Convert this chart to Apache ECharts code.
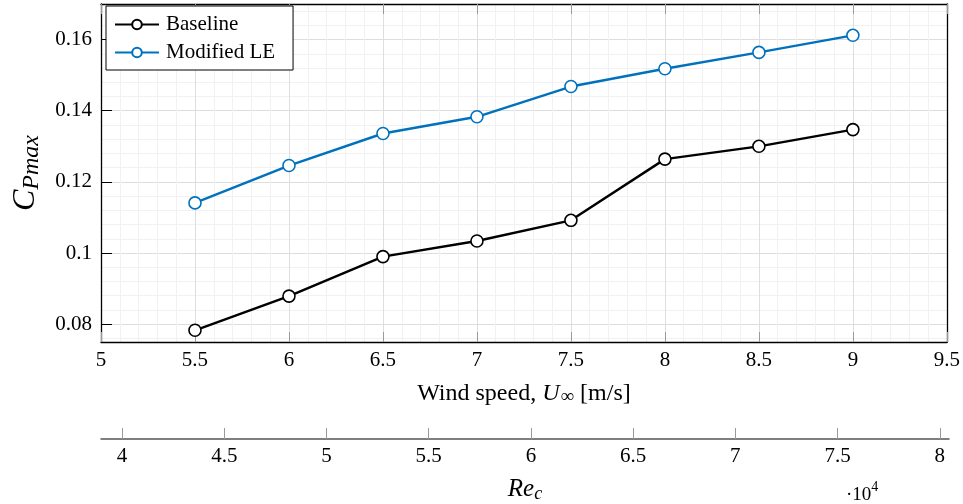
<!DOCTYPE html>
<html>
<head>
<meta charset="utf-8">
<script src="https://cdn.jsdelivr.net/npm/echarts@6/dist/echarts.min.js"></script>
<style>
  html, body { margin: 0; padding: 0; background: #fff; }
  #chart { width: 963px; height: 504px; }
</style>
</head>
<body>
<div id="chart"></div>
<script>
// Wind speed [m/s]
const windSpeed = [5.5, 6, 6.5, 7, 7.5, 8, 8.5, 9];
// Maximum power coefficient per configuration
const baseline = [0.0783, 0.0879, 0.0990, 0.1034, 0.1092, 0.1264, 0.1300, 0.1347];
const modifiedLE = [0.1141, 0.1246, 0.1336, 0.1383, 0.1468, 0.1518, 0.1564, 0.1612];
// Chord Reynolds number ticks (x 10^4)
const reTicks = [4, 4.5, 5, 5.5, 6, 6.5, 7, 7.5, 8];

const FONT = '"Liberation Serif", "DejaVu Serif", serif';
const BLUE = '#0072BD';

const pairs = arr => windSpeed.map((u, i) => [u, arr[i]]);

const chart = echarts.init(document.getElementById('chart'), null, { renderer: 'canvas' });

const tickText = { fontFamily: FONT, fontSize: 21, color: '#000' };

chart.setOption({
  animation: false,
  backgroundColor: '#fff',
  grid: [
    { left: 101, right: 14, top: 4, bottom: 162 },
    { left: 101, right: 14, top: 430, height: 10 }
  ],
  legend: {
    data: ['Baseline', 'Modified LE'],
    orient: 'vertical',
    left: 106,
    top: 6,
    backgroundColor: '#fff',
    borderColor: '#000',
    borderWidth: 1,
    borderRadius: 0,
    padding: [8, 18, 7, 8],
    itemWidth: 44,
    itemHeight: 12,
    itemGap: 7,
    textStyle: { fontFamily: FONT, fontSize: 21, color: '#000', padding: [0, 0, 0, 2] }
  },
  xAxis: [
    {
      type: 'value', gridIndex: 0, position: 'bottom',
      min: 5, max: 9.5, interval: 0.5,
      axisLine: { show: true, onZero: false, lineStyle: { color: '#000', width: 1.3 } },
      axisTick: { show: true, inside: true, length: 10, lineStyle: { color: '#999', width: 1 } },
      axisLabel: Object.assign({ margin: 8 }, tickText),
      splitLine: { show: true, lineStyle: { color: '#dedede', width: 1 } },
      minorSplitLine: { show: true, lineStyle: { color: '#f1f1f1', width: 1 } },
      minorTick: { show: false, splitNumber: 5 },
      name: '{n|Wind speed, }{i|U}{s|∞}{n| [m/s]}',
      nameLocation: 'middle',
      nameGap: 38,
      nameTextStyle: {
        rich: {
          n: { fontFamily: FONT, fontSize: 24, color: '#000' },
          i: { fontFamily: FONT, fontSize: 24, fontStyle: 'italic', color: '#000' },
          s: { fontFamily: FONT, fontSize: 19, color: '#000', padding: [8, 0, 0, 1] }
        }
      }
    },
    {
      type: 'value', gridIndex: 0, position: 'top',
      min: 5, max: 9.5, interval: 0.5,
      axisLine: { show: true, onZero: false, lineStyle: { color: '#000', width: 1.3 } },
      axisTick: { show: true, inside: true, length: 10, lineStyle: { color: '#999', width: 1 } },
      axisLabel: { show: false },
      splitLine: { show: false }
    },
    {
      type: 'value', gridIndex: 1, position: 'bottom',
      min: 3.897, max: 8.045,
      axisLine: { show: true, onZero: false, lineStyle: { color: '#555', width: 1.5 } },
      axisTick: { show: true, inside: true, length: 11, customValues: reTicks, lineStyle: { color: '#999', width: 1 } },
      axisLabel: Object.assign({ margin: 7, customValues: reTicks }, tickText),
      splitLine: { show: false },
      name: '{i|Re}{s|c}',
      nameLocation: 'middle',
      nameGap: 37,
      nameTextStyle: {
        rich: {
          i: { fontFamily: FONT, fontSize: 25, fontStyle: 'italic', color: '#000' },
          s: { fontFamily: FONT, fontSize: 18, fontStyle: 'italic', color: '#000', padding: [9, 0, 0, 0] }
        }
      }
    }
  ],
  yAxis: [
    {
      type: 'value', gridIndex: 0, position: 'left',
      min: 0.075, max: 0.17,
      axisLine: { show: true, onZero: false, lineStyle: { color: '#000', width: 1.3 } },
      axisTick: { show: true, inside: true, length: 11, lineStyle: { color: '#000', width: 1 } },
      axisLabel: Object.assign({ margin: 9, showMinLabel: false, showMaxLabel: false }, tickText),
      splitLine: { show: true, lineStyle: { color: '#dedede', width: 1 } },
      minorSplitLine: { show: true, lineStyle: { color: '#f1f1f1', width: 1 } },
      minorTick: { show: false, splitNumber: 5 },
      name: '{c|C}{s|Pmax}',
      nameLocation: 'middle',
      nameGap: 57,
      nameTextStyle: {
        rich: {
          c: { fontFamily: FONT, fontSize: 32, fontStyle: 'italic', color: '#000' },
          s: { fontFamily: FONT, fontSize: 24, fontStyle: 'italic', color: '#000', padding: [13, 0, 0, 0] }
        }
      }
    },
    {
      type: 'value', gridIndex: 0, position: 'right',
      min: 0.075, max: 0.17,
      axisLine: { show: true, onZero: false, lineStyle: { color: '#000', width: 1.3 } },
      axisTick: { show: false },
      axisLabel: { show: false },
      splitLine: { show: false }
    },
    {
      type: 'value', gridIndex: 1, min: 0, max: 1, show: false
    }
  ],
  graphic: [
    {
      type: 'text',
      left: 846,
      top: 480,
      style: {
        text: '{a|·10}{b|4}',
        rich: {
          a: { fontFamily: FONT, fontSize: 19, fill: '#000', padding: [6, 0, 0, 0] },
          b: { fontFamily: FONT, fontSize: 14, fill: '#000', verticalAlign: 'top' }
        }
      }
    }
  ],
  series: [
    {
      name: 'Baseline',
      type: 'line',
      xAxisIndex: 0, yAxisIndex: 0,
      data: pairs(baseline),
      symbol: 'circle',
      symbolSize: 12,
      showAllSymbol: true,
      lineStyle: { color: '#000', width: 2.4 },
      itemStyle: { color: '#fff', borderColor: '#000', borderWidth: 1.6 },
      emphasis: { disabled: true }
    },
    {
      name: 'Modified LE',
      type: 'line',
      xAxisIndex: 0, yAxisIndex: 0,
      data: pairs(modifiedLE),
      symbol: 'circle',
      symbolSize: 12,
      showAllSymbol: true,
      lineStyle: { color: BLUE, width: 2.4 },
      itemStyle: { color: '#fff', borderColor: BLUE, borderWidth: 1.6 },
      emphasis: { disabled: true }
    }
  ]
});
</script>
</body>
</html>
